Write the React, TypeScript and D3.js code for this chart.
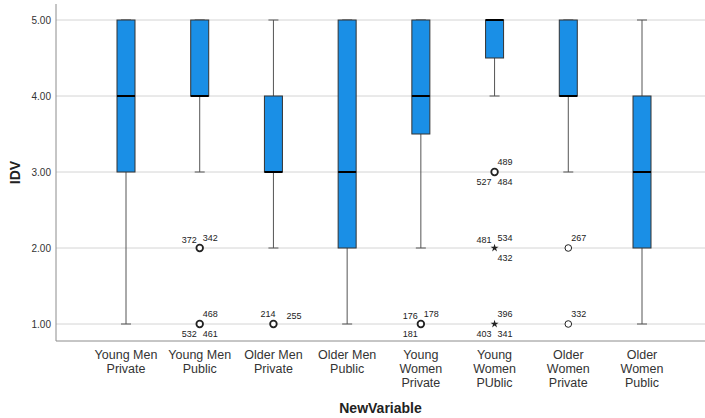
import React from "react";
import * as d3 from "d3";

const categories = [
  "Young Men Private",
  "Young Men Public",
  "Older Men Private",
  "Older Men Public",
  "Young Women Private",
  "Young Women PUblic",
  "Older Women Private",
  "Older Women Public",
];
const categoryLines = [
  ["Young Men", "Private"],
  ["Young Men", "Public"],
  ["Older Men", "Private"],
  ["Older Men", "Public"],
  ["Young", "Women", "Private"],
  ["Young", "Women", "PUblic"],
  ["Older", "Women", "Private"],
  ["Older", "Women", "Public"],
];
const whiskerLow = [1, 3, 2, 1, 2, 4, 3, 1];
const q1 = [3, 4, 3, 2, 3.5, 4.5, 4, 2];
const median = [4, 4, 3, 3, 4, 5, 4, 3];
const q3 = [5, 5, 4, 5, 5, 5, 5, 4];
const whiskerHigh = [5, 5, 5, 5, 5, 5, 5, 5];
const yTicks = [1, 2, 3, 4, 5];

const outlierCategory = [1, 1, 2, 4, 5, 5, 5, 6, 6];
const outlierValue = [2, 1, 1, 1, 3, 2, 1, 2, 1];
const outlierMarker = ["circle", "circle", "circle", "circle", "circle", "star", "star", "circle", "circle"];
const outlierCases = [
  ["372", "342"],
  ["468", "532", "461"],
  ["214", "255"],
  ["176", "178", "181"],
  ["489", "527", "484"],
  ["481", "534", "432"],
  ["396", "403", "341"],
  ["267"],
  ["332"],
];

// label placement slots (layout only)
const outlierSlots = [
  ["ul", "ur"],
  ["ur", "ll", "lr"],
  ["ulc", "urf"],
  ["ul", "ur", "ll"],
  ["ur", "ll", "lr"],
  ["ul", "ur", "lr"],
  ["ur", "ll", "lr"],
  ["ur"],
  ["ur"],
];
const slotStyle: Record<string, { dx: number; dy: number; anchor: string }> = {
  ul: { dx: -3, dy: -5.5, anchor: "end" },
  ur: { dx: 3, dy: -7, anchor: "start" },
  ll: { dx: -3, dy: 12.5, anchor: "end" },
  lr: { dx: 3, dy: 12.5, anchor: "start" },
  ulc: { dx: 2, dy: -7, anchor: "end" },
  urf: { dx: 13, dy: -5, anchor: "start" },
};

const W = 705;
const H = 418;
const left = 56;
const right = 705;
const font = "'Liberation Sans', Arial, sans-serif";

export default function App() {
  const y = d3.scaleLinear().domain([1, 5]).range([324, 20]);
  const yTop = y.invert(4);
  const yBottom = y.invert(341);
  const x = d3.scalePoint<string>().domain(categories).range([126, 642]);
  const boxW = 18;
  const capW = 10;
  const star = d3.symbol().type(d3.symbolStar).size(20)();

  return (
    <svg
      width={W}
      height={H}
      style={{ position: "absolute", left: 0, top: 0, background: "#fff" }}
      fontFamily={font}
    >
      {yTicks.map((t) => (
        <line key={"g" + t} x1={left} x2={right} y1={y(t)} y2={y(t)} stroke="#d4d4d4" strokeWidth={1} />
      ))}
      <line x1={left} x2={left} y1={y(yTop)} y2={y(yBottom)} stroke="#8c8c8c" strokeWidth={1} />
      <line x1={left} x2={right} y1={y(yBottom)} y2={y(yBottom)} stroke="#8c8c8c" strokeWidth={1} />
      {yTicks.map((t) => (
        <text key={"t" + t} x={51} y={y(t) + 3.5} textAnchor="end" fontSize={10} fill="#333">
          {d3.format(".2f")(t)}
        </text>
      ))}
      <text
        transform={`translate(20,${(y(yTop) + y(yBottom)) / 2}) rotate(-90)`}
        textAnchor="middle"
        fontSize={14}
        fontWeight="bold"
        fill="#222"
      >
        IDV
      </text>
      {categories.map((c, i) => {
        const cx = x(c) as number;
        return (
          <g key={c}>
            <line x1={cx} x2={cx} y1={y(whiskerLow[i])} y2={y(q1[i])} stroke="#555" strokeWidth={1} />
            <line x1={cx} x2={cx} y1={y(q3[i])} y2={y(whiskerHigh[i])} stroke="#555" strokeWidth={1} />
            <line x1={cx - capW / 2} x2={cx + capW / 2} y1={y(whiskerLow[i])} y2={y(whiskerLow[i])} stroke="#555" strokeWidth={1} />
            <line x1={cx - capW / 2} x2={cx + capW / 2} y1={y(whiskerHigh[i])} y2={y(whiskerHigh[i])} stroke="#555" strokeWidth={1} />
            <rect
              x={cx - boxW / 2}
              y={y(q3[i])}
              width={boxW}
              height={y(q1[i]) - y(q3[i])}
              fill="#1a8fe6"
              stroke="#333"
              strokeWidth={1}
            />
            <line x1={cx - boxW / 2} x2={cx + boxW / 2} y1={y(median[i])} y2={y(median[i])} stroke="#000" strokeWidth={2} />
          </g>
        );
      })}
      {outlierCategory.map((ci, k) => {
        const cx = x(categories[ci]) as number;
        const cy = y(outlierValue[k]);
        const bold = outlierCases[k].length > 1;
        return (
          <g key={"o" + k}>
            {outlierMarker[k] === "circle" ? (
              <circle cx={cx} cy={cy} r={3.3} fill="#fff" stroke="#222" strokeWidth={bold ? 1.8 : 1} />
            ) : (
              <path d={star as string} transform={`translate(${cx},${cy})`} fill="#222" />
            )}
            {outlierCases[k].map((id, j) => {
              const s = slotStyle[outlierSlots[k][j]];
              return (
                <text key={id} x={cx + s.dx} y={cy + s.dy} textAnchor={s.anchor} fontSize={9} fill="#222">
                  {id}
                </text>
              );
            })}
          </g>
        );
      })}
      {categories.map((c, i) => (
        <text key={"x" + c} textAnchor="middle" fontSize={12.5} fill="#333">
          {categoryLines[i].map((ln, j) => (
            <tspan key={j} x={x(c) as number} y={359 + j * 14}>
              {ln}
            </tspan>
          ))}
        </text>
      ))}
      <text x={(left + right) / 2} y={413} textAnchor="middle" fontSize={14} fontWeight="bold" fill="#222">
        NewVariable
      </text>
    </svg>
  );
}
